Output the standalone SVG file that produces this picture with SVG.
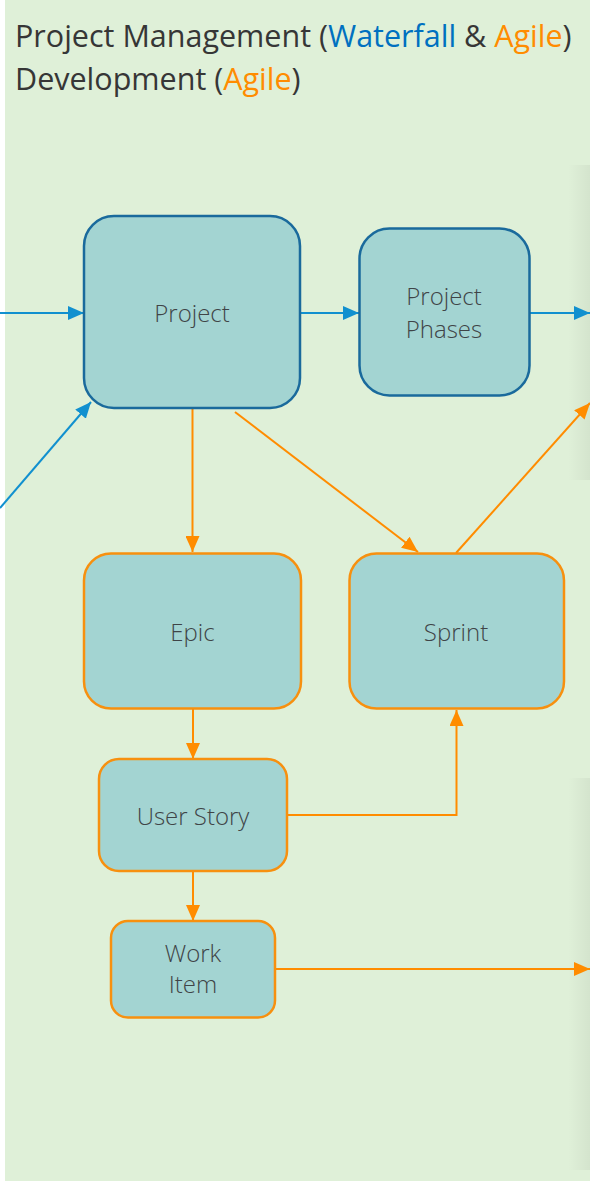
<svg xmlns="http://www.w3.org/2000/svg" width="590" height="1182" viewBox="0 0 590 1182">
  <style>
    .node rect { fill: #A3D4D2; stroke-width: 2.5; }
    .pm rect { stroke: #1A6A9C; }
    .ag rect { stroke: #F7900F; }
    .lbl { font-family: "Open Sans", "Liberation Sans", sans-serif; font-weight: 300; font-size: 24px; fill: #3F4447; text-anchor: middle; }
    .title { font-family: "Open Sans", "Liberation Sans", sans-serif; font-size: 30.5px; fill: #363636; }
    .blue { stroke: #1190CF; stroke-width: 2; fill: none; }
    .orange { stroke: #FF8C00; stroke-width: 2; fill: none; }
  </style>
  <defs>
    <marker id="ab" viewBox="0 0 16 14" refX="16" refY="7" markerWidth="16" markerHeight="14" markerUnits="userSpaceOnUse" orient="auto">
      <path d="M0,0 L16,7 L0,14 Z" fill="#1190CF"/>
    </marker>
    <marker id="ao" viewBox="0 0 16 14" refX="16" refY="7" markerWidth="16" markerHeight="14" markerUnits="userSpaceOnUse" orient="auto">
      <path d="M0,0 L16,7 L0,14 Z" fill="#FF8C00"/>
    </marker>
    <linearGradient id="sh" x1="0" y1="0" x2="1" y2="0">
      <stop offset="0" stop-color="#000" stop-opacity="0"/>
      <stop offset="1" stop-color="#000" stop-opacity="0.05"/>
    </linearGradient>
  </defs>

  <rect x="5" y="0" width="585" height="1181" fill="#DFF0D8"/>
  <rect x="568" y="165" width="22" height="315" fill="url(#sh)"/>
  <rect x="568" y="778" width="22" height="392" fill="url(#sh)"/>

  <g id="title">
    <text class="title" x="15" y="47">Project Management (<tspan fill="#0070C0">Waterfall</tspan> &amp; <tspan fill="#FF8C00">Agile</tspan>)</text>
    <text class="title" x="15" y="90">Development (<tspan fill="#FF8C00">Agile</tspan>)</text>
  </g>

  <g id="connectors">
    <line class="blue" x1="0" y1="313" x2="84" y2="313" marker-end="url(#ab)"/>
    <line class="blue" x1="0" y1="508" x2="91" y2="402" marker-end="url(#ab)"/>
    <line class="blue" x1="300" y1="313" x2="359" y2="313" marker-end="url(#ab)"/>
    <line class="blue" x1="529" y1="313" x2="590" y2="313" marker-end="url(#ab)"/>
    <line class="orange" x1="192.5" y1="408" x2="192.5" y2="552" marker-end="url(#ao)"/>
    <line class="orange" x1="235" y1="412" x2="418" y2="552" marker-end="url(#ao)"/>
    <line class="orange" x1="456" y1="553" x2="590" y2="403" marker-end="url(#ao)"/>
    <line class="orange" x1="193" y1="709" x2="193" y2="759" marker-end="url(#ao)"/>
    <polyline class="orange" points="287,815 456.5,815 456.5,710" marker-end="url(#ao)"/>
    <line class="orange" x1="193" y1="871" x2="193" y2="921" marker-end="url(#ao)"/>
    <line class="orange" x1="275" y1="969" x2="590" y2="969" marker-end="url(#ao)"/>
  </g>

  <g id="project" class="node pm">
    <rect x="84" y="216" width="216" height="192" rx="30"/>
    <text class="lbl" x="192" y="321.5">Project</text>
  </g>
  <g id="project-phases" class="node pm">
    <rect x="359.5" y="228.5" width="170" height="167" rx="30"/>
    <text class="lbl" x="444" y="305">Project</text>
    <text class="lbl" x="444" y="338">Phases</text>
  </g>
  <g id="epic" class="node ag">
    <rect x="84" y="553.5" width="217" height="155" rx="27"/>
    <text class="lbl" x="192.5" y="640.5">Epic</text>
  </g>
  <g id="sprint" class="node ag">
    <rect x="349.5" y="553.5" width="214.5" height="155" rx="27"/>
    <text class="lbl" x="456" y="640.5">Sprint</text>
  </g>
  <g id="user-story" class="node ag">
    <rect x="99" y="759" width="188" height="112" rx="20"/>
    <text class="lbl" x="193" y="824.5">User Story</text>
  </g>
  <g id="work-item" class="node ag">
    <rect x="111" y="921" width="164" height="96.5" rx="17"/>
    <text class="lbl" x="193" y="961.5">Work</text>
    <text class="lbl" x="193" y="993">Item</text>
  </g>
</svg>
